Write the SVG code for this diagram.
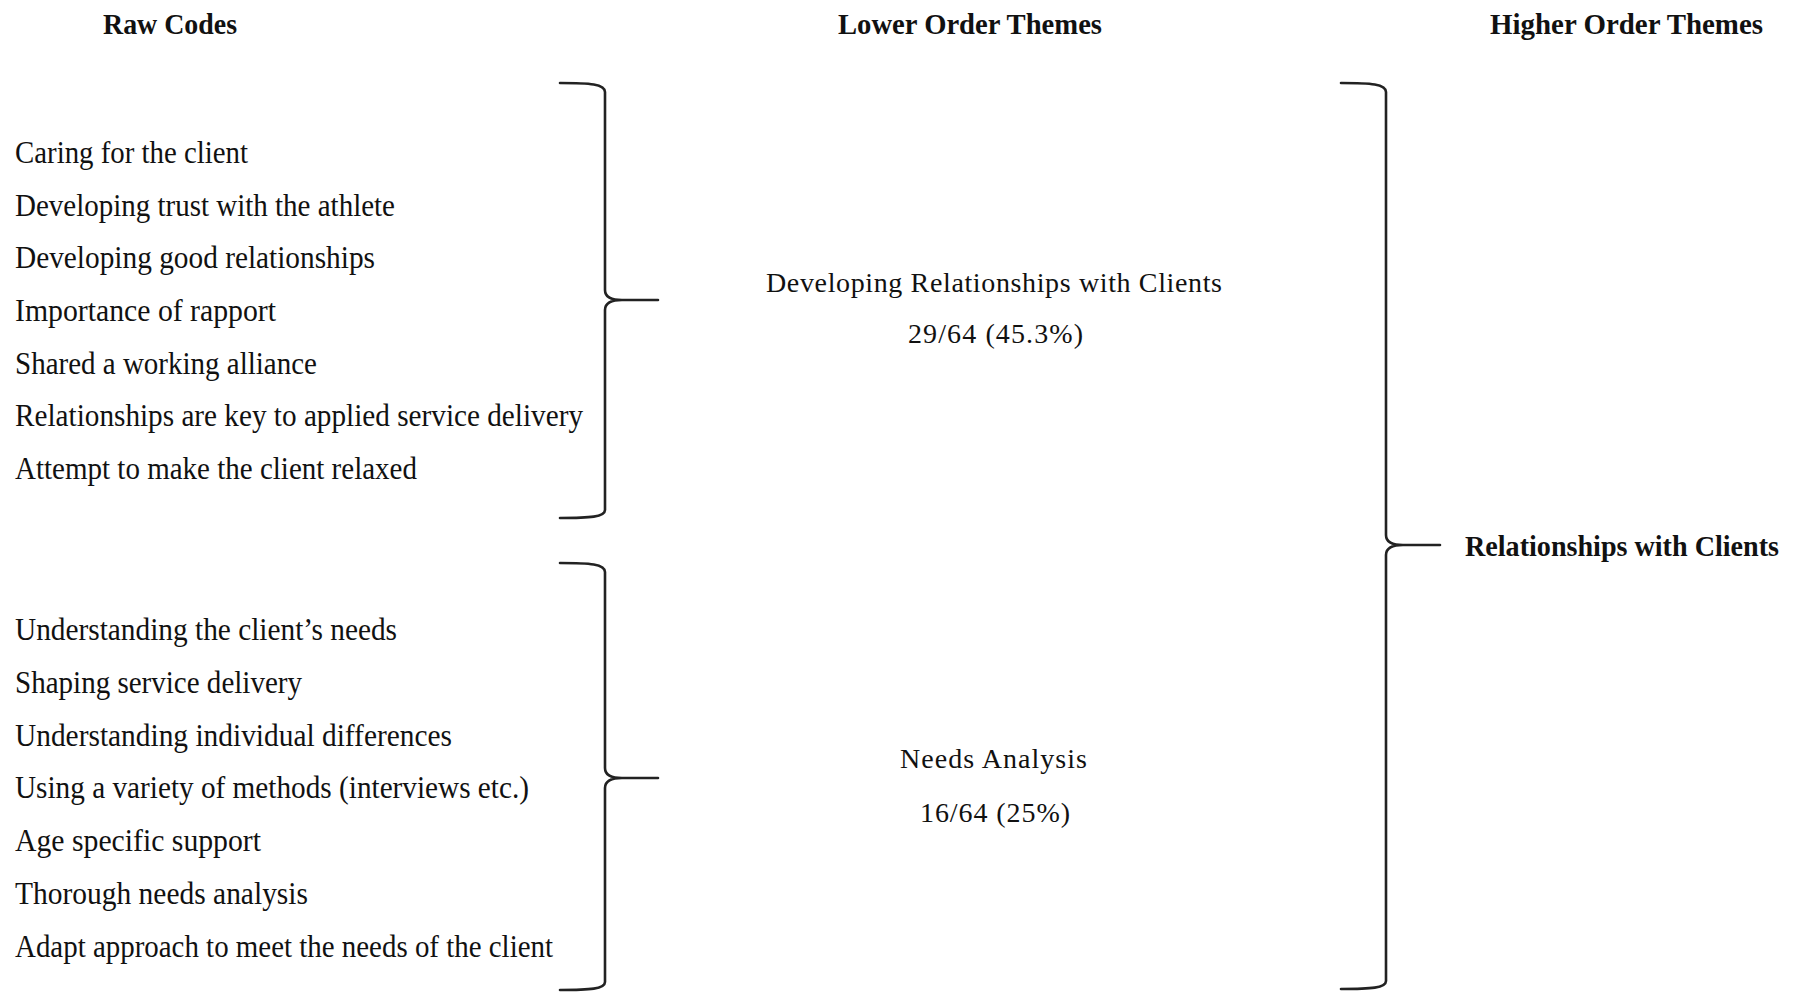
<svg xmlns="http://www.w3.org/2000/svg" width="1800" height="994" viewBox="0 0 1800 994">
  <style>
    .head { font-family: "Liberation Serif", "Times New Roman", serif; font-weight: bold; font-size: 29px; fill: #111; }
    .code { font-family: "Liberation Serif", "Times New Roman", serif; font-size: 31px; fill: #111; }
    .theme { font-family: "Liberation Serif", "Times New Roman", serif; font-size: 28px; fill: #111; }
    .higher { font-family: "Liberation Serif", "Times New Roman", serif; font-weight: bold; font-size: 30px; fill: #111; }
    .brace { fill: none; stroke: #222; stroke-width: 2.6; stroke-linecap: round; stroke-linejoin: round; }
  </style>
  <rect width="1800" height="994" fill="#fff"/>

  <!-- column headings -->
  <g id="headings">
    <text class="head" x="103" y="34" textLength="134" lengthAdjust="spacingAndGlyphs">Raw Codes</text>
    <text class="head" x="838" y="34" textLength="264" lengthAdjust="spacingAndGlyphs">Lower Order Themes</text>
    <text class="head" x="1490" y="34" textLength="273" lengthAdjust="spacingAndGlyphs">Higher Order Themes</text>
  </g>

  <!-- raw codes, first group -->
  <g id="codes-relationships">
    <text class="code" x="15" y="163" textLength="233" lengthAdjust="spacingAndGlyphs">Caring for the client</text>
    <text class="code" x="15" y="216" textLength="380" lengthAdjust="spacingAndGlyphs">Developing trust with the athlete</text>
    <text class="code" x="15" y="268" textLength="360" lengthAdjust="spacingAndGlyphs">Developing good relationships</text>
    <text class="code" x="15" y="321" textLength="261" lengthAdjust="spacingAndGlyphs">Importance of rapport</text>
    <text class="code" x="15" y="374" textLength="302" lengthAdjust="spacingAndGlyphs">Shared a working alliance</text>
    <text class="code" x="15" y="426" textLength="568" lengthAdjust="spacingAndGlyphs">Relationships are key to applied service delivery</text>
    <text class="code" x="15" y="479" textLength="402" lengthAdjust="spacingAndGlyphs">Attempt to make the client relaxed</text>
  </g>

  <!-- raw codes, second group -->
  <g id="codes-needs">
    <text class="code" x="15" y="640" textLength="382" lengthAdjust="spacingAndGlyphs">Understanding the client’s needs</text>
    <text class="code" x="15" y="693" textLength="287" lengthAdjust="spacingAndGlyphs">Shaping service delivery</text>
    <text class="code" x="15" y="746" textLength="437" lengthAdjust="spacingAndGlyphs">Understanding individual differences</text>
    <text class="code" x="15" y="798" textLength="514" lengthAdjust="spacingAndGlyphs">Using a variety of methods (interviews etc.)</text>
    <text class="code" x="15" y="851" textLength="246" lengthAdjust="spacingAndGlyphs">Age specific support</text>
    <text class="code" x="15" y="904" textLength="293" lengthAdjust="spacingAndGlyphs">Thorough needs analysis</text>
    <text class="code" x="15" y="957" textLength="538" lengthAdjust="spacingAndGlyphs">Adapt approach to meet the needs of the client</text>
  </g>

  <!-- lower order themes -->
  <g id="theme-developing">
    <text class="theme" x="766" y="292" textLength="456" lengthAdjust="spacing">Developing Relationships with Clients</text>
    <text class="theme" x="908" y="343" textLength="175" lengthAdjust="spacing">29/64 (45.3%)</text>
  </g>
  <g id="theme-needs">
    <text class="theme" x="900" y="768" textLength="187" lengthAdjust="spacing">Needs Analysis</text>
    <text class="theme" x="920" y="822" textLength="150" lengthAdjust="spacing">16/64 (25%)</text>
  </g>

  <!-- higher order theme -->
  <g id="theme-higher">
    <text class="higher" x="1465" y="556" textLength="314" lengthAdjust="spacingAndGlyphs">Relationships with Clients</text>
  </g>

  <!-- curly braces grouping codes into themes -->
  <g id="connectors">
    <path class="brace" d="M560,83 C590,83 605,84 605,92 L605,290 C605,297 612,300 622,300 L658,300 M622,300 C612,300 605,303 605,310 L605,510 C605,517 590,518 560,518"/>
    <path class="brace" d="M560,563 C590,563 605,564 605,572 L605,768 C605,775 612,778 622,778 L658,778 M622,778 C612,778 605,781 605,788 L605,982 C605,989 590,990 560,990"/>
    <path class="brace" d="M1341,83 C1371,83 1386,84 1386,92 L1386,535 C1386,542 1393,545 1403,545 L1440,545 M1403,545 C1393,545 1386,548 1386,555 L1386,981 C1386,988 1371,989 1341,989"/>
  </g>
</svg>
